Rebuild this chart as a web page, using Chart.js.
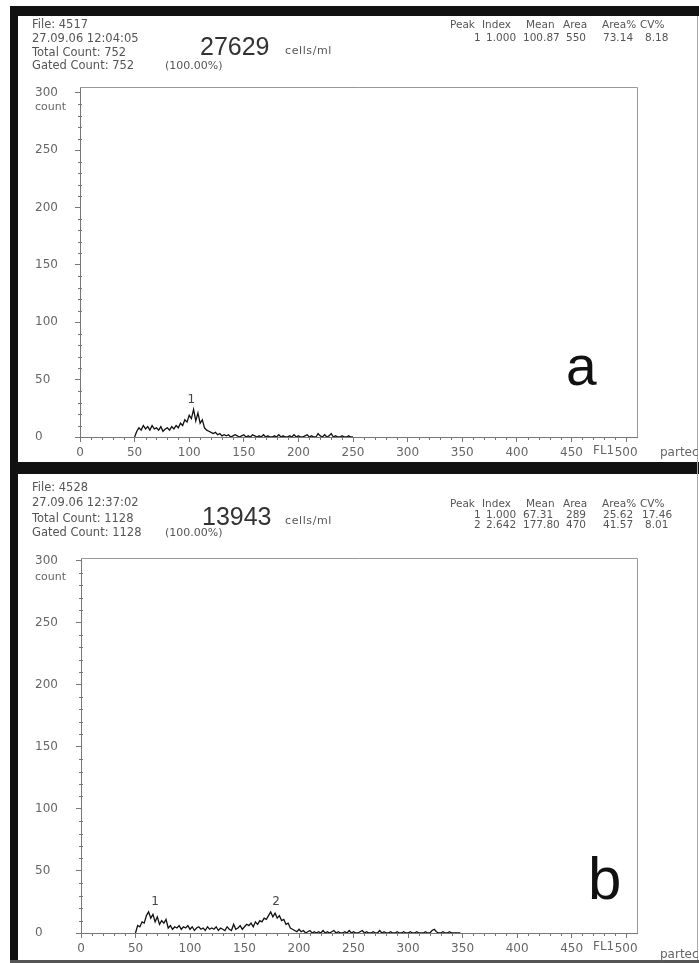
<!DOCTYPE html>
<html>
<head>
<meta charset="utf-8">
<script src="https://cdn.jsdelivr.net/npm/chart.js@4.4.1/dist/chart.umd.min.js"></script>
<style>
    body { margin: 0; background: #fff; }
    #page { position: relative; width: 699px; height: 963px; overflow: hidden; background: #fff; }
    .blk { position: absolute; background: #111; }
    canvas { position: absolute; left: 0; }
    .t { position: absolute; white-space: nowrap; line-height: 1; color: #555; font-family: 'DejaVu Sans', sans-serif; }
</style>
</head>
<body>
<div id="page">
    <div class="blk" style="left:10px;top:6px;width:689px;height:10px"></div>
    <div class="blk" style="left:10px;top:6px;width:8px;height:957px"></div>
    <div class="blk" style="left:10px;top:462px;width:689px;height:12px"></div>
    <div class="blk" style="left:10px;top:960px;width:689px;height:3px;background:#555"></div>
    <div class="blk" style="left:697px;top:16px;width:1px;height:944px;background:#aaa"></div>
    <canvas id="chartA" width="699" height="462" style="top:0"></canvas>
    <canvas id="chartB" width="699" height="489" style="top:474px"></canvas>
</div>
<script>
// FL1 channel axis and count axis
const xTicks = [0, 50, 100, 150, 200, 250, 300, 350, 400, 450, 500];
const yTicks = [0, 50, 100, 150, 200, 250, 300];

// sample a: counts per 2 channels, starting at channel 50
const startA = 50;
const countsA = [
    0, 5, 8, 6, 10, 7, 9, 6, 10, 7, 8, 6, 9, 5, 7, 8, 6, 9, 7, 10,
    8, 12, 10, 15, 13, 19, 16, 24, 14, 21, 12, 15, 8, 6, 5, 4, 3, 4, 2, 3,
    1, 2, 1, 2, 0, 1, 2, 1, 0, 1, 2, 0, 1, 0, 2, 1, 0, 1, 0, 2,
    0, 1, 0, 0, 1, 0, 2, 0, 1, 0, 0, 1, 0, 2, 0, 1, 0, 0, 1, 2,
    0, 1, 0, 0, 3, 1, 0, 2, 0, 1, 3, 0, 1, 0, 0, 1, 0, 0, 1, 0, 0
];
const peaksA = [{ label: '1', x: 102, y: 32 }];

// sample b
const startB = 50;
const countsB = [
    0, 6, 5, 9, 8, 14, 17, 12, 15, 9, 13, 7, 10, 8, 11, 4, 6, 3, 5, 4,
    6, 3, 5, 4, 6, 3, 5, 2, 4, 5, 3, 4, 2, 5, 3, 4, 3, 5, 2, 4,
    3, 2, 5, 3, 2, 7, 3, 4, 6, 3, 5, 7, 6, 8, 5, 9, 7, 10, 9, 12,
    11, 14, 17, 13, 16, 12, 14, 10, 11, 7, 8, 4, 3, 2, 1, 3, 1, 2, 0, 1,
    2, 0, 1, 0, 1, 0, 2, 0, 1, 0, 1, 2, 0, 1, 0, 0, 1, 0, 2, 0,
    1, 0, 0, 1, 2, 0, 1, 0, 0, 1, 0, 0, 2, 0, 1, 0, 0, 1, 0, 0,
    1, 0, 0, 1, 0, 0, 1, 0, 0, 1, 0, 0, 0, 1, 0, 0, 2, 3, 1, 0,
    0, 1, 0, 0, 1, 0, 0, 0, 0, 0
];
const peaksB = [{ label: '1', x: 68, y: 25 }, { label: '2', x: 179, y: 25 }];

const page = document.getElementById('page');

function addText(txt, x, cy, size, opts = {}) {
    const d = document.createElement('div');
    d.className = 't';
    d.textContent = txt;
    d.style.left = x + 'px';
    d.style.top = (cy - size * 0.55) + 'px';
    d.style.fontSize = size + 'px';
    if (opts.color) d.style.color = opts.color;
    if (opts.family) d.style.fontFamily = opts.family;
    if (opts.spacing) d.style.letterSpacing = opts.spacing + 'px';
    page.appendChild(d);
}

// minor ticks, box and peak numbers
const decor = {
    id: 'decor',
    afterDraw(chart, args, o) {
        const { ctx, chartArea: a, scales: { x, y } } = chart;
        ctx.save();
        ctx.strokeStyle = '#777';
        ctx.lineWidth = 1;
        ctx.beginPath();
        for (let v = 10; v < y.max; v += 10) {
            if (v % 50 === 0) continue;
            const py = Math.round(y.getPixelForValue(v)) + 0.5;
            ctx.moveTo(a.left - 2, py);
            ctx.lineTo(a.left + 2, py);
        }
        for (let v = 10; v < 500; v += 10) {
            if (v % 50 === 0) continue;
            const px = Math.round(x.getPixelForValue(v)) + 0.5;
            ctx.moveTo(px, a.bottom);
            ctx.lineTo(px, a.bottom + 3);
        }
        ctx.stroke();
        ctx.strokeStyle = '#999';
        ctx.beginPath();
        ctx.moveTo(a.left, Math.round(a.top) + 0.5);
        ctx.lineTo(Math.round(a.right) + 0.5, Math.round(a.top) + 0.5);
        ctx.lineTo(Math.round(a.right) + 0.5, a.bottom);
        ctx.stroke();
        ctx.fillStyle = '#444';
        ctx.font = '12px "DejaVu Sans"';
        ctx.textAlign = 'center';
        ctx.textBaseline = 'middle';
        o.peaks.forEach(p => {
            ctx.fillText(p.label, x.getPixelForValue(p.x), y.getPixelForValue(p.y));
        });
        ctx.restore();
    }
};

function makeChart(id, start, counts, peaks, yMax, pad, yWidth) {
    const points = counts.map((c, i) => ({ x: start + i * 2, y: c }));
    return new Chart(document.getElementById(id), {
        type: 'line',
        data: {
            datasets: [{
                data: points,
                borderColor: '#111',
                borderWidth: 1.3,
                pointRadius: 0,
                tension: 0,
                fill: false
            }]
        },
        options: {
            responsive: false,
            animation: false,
            layout: { padding: pad },
            plugins: {
                legend: { display: false },
                tooltip: { enabled: false },
                decor: { peaks: peaks }
            },
            scales: {
                x: {
                    type: 'linear',
                    min: 0,
                    max: 510,
                    afterBuildTicks: s => { s.ticks = xTicks.map(v => ({ value: v })); },
                    afterFit: s => { s.height = 20; },
                    grid: { drawOnChartArea: false, tickLength: 5, color: '#777' },
                    border: { color: '#777' },
                    ticks: {
                        padding: 4,
                        maxRotation: 0,
                        color: '#666',
                        font: { family: 'DejaVu Sans', size: 12 }
                    }
                },
                y: {
                    min: 0,
                    max: yMax,
                    afterBuildTicks: s => { s.ticks = yTicks.map(v => ({ value: v })); },
                    afterFit: s => { s.width = yWidth; },
                    grid: { drawOnChartArea: false, tickLength: 5, color: '#777' },
                    border: { color: '#777' },
                    ticks: {
                        crossAlign: 'far',
                        color: '#666',
                        font: { family: 'DejaVu Sans', size: 12 }
                    }
                }
            }
        },
        plugins: [decor]
    });
}

makeChart('chartA', startA, countsA, peaksA, 305, { left: 35, right: 62, top: 87, bottom: 5 }, 45);
makeChart('chartB', startB, countsB, peaksB, 302, { left: 35, right: 62, top: 84, bottom: 10 }, 46);

// panel a header
addText('File: 4517', 32, 25, 11.5);
addText('27.09.06  12:04:05', 32, 39, 11.5);
addText('Total Count:  752', 32, 53, 11.5);
addText('Gated Count: 752', 32, 66, 11.5);
addText('27629', 200, 48, 25, { color: '#333', family: "'Liberation Sans', Arial" });
addText('cells/ml', 285, 51, 11, { spacing: 0.6 });
addText('(100.00%)', 165, 66, 11);
addText('Peak', 450, 25, 10.5); addText('Index', 482, 25, 10.5); addText('Mean', 526, 25, 10.5);
addText('Area', 563, 25, 10.5); addText('Area%', 602, 25, 10.5); addText('CV%', 640, 25, 10.5);
addText('1', 474, 38, 10.5); addText('1.000', 486, 38, 10.5); addText('100.87', 523, 38, 10.5);
addText('550', 566, 38, 10.5); addText('73.14', 603, 38, 10.5); addText('8.18', 645, 38, 10.5);
addText('count', 35, 107, 11, { color: '#666' });
addText('FL1', 593, 451, 12, { color: '#666' });
addText('partec', 660, 453, 12, { color: '#666' });
addText('a', 566, 369, 55, { color: '#111', family: "'Liberation Sans', Arial" });

// panel b header
addText('File: 4528', 32, 488, 11.5);
addText('27.09.06  12:37:02', 32, 503, 11.5);
addText('Total Count:  1128', 32, 519, 11.5);
addText('Gated Count: 1128', 32, 533, 11.5);
addText('13943', 202, 518, 25, { color: '#333', family: "'Liberation Sans', Arial" });
addText('cells/ml', 285, 521, 11, { spacing: 0.6 });
addText('(100.00%)', 165, 533, 11);
addText('Peak', 450, 504, 10.5); addText('Index', 482, 504, 10.5); addText('Mean', 526, 504, 10.5);
addText('Area', 563, 504, 10.5); addText('Area%', 602, 504, 10.5); addText('CV%', 640, 504, 10.5);
addText('1', 474, 515, 10.5); addText('1.000', 486, 515, 10.5); addText('67.31', 523, 515, 10.5);
addText('289', 566, 515, 10.5); addText('25.62', 603, 515, 10.5); addText('17.46', 642, 515, 10.5);
addText('2', 474, 525, 10.5); addText('2.642', 486, 525, 10.5); addText('177.80', 523, 525, 10.5);
addText('470', 566, 525, 10.5); addText('41.57', 603, 525, 10.5); addText('8.01', 645, 525, 10.5);
addText('count', 35, 577, 11, { color: '#666' });
addText('FL1', 593, 947, 12, { color: '#666' });
addText('partec', 660, 955, 12, { color: '#666' });
addText('b', 588, 882, 60, { color: '#111', family: "'Liberation Sans', Arial" });
</script>
</body>
</html>
